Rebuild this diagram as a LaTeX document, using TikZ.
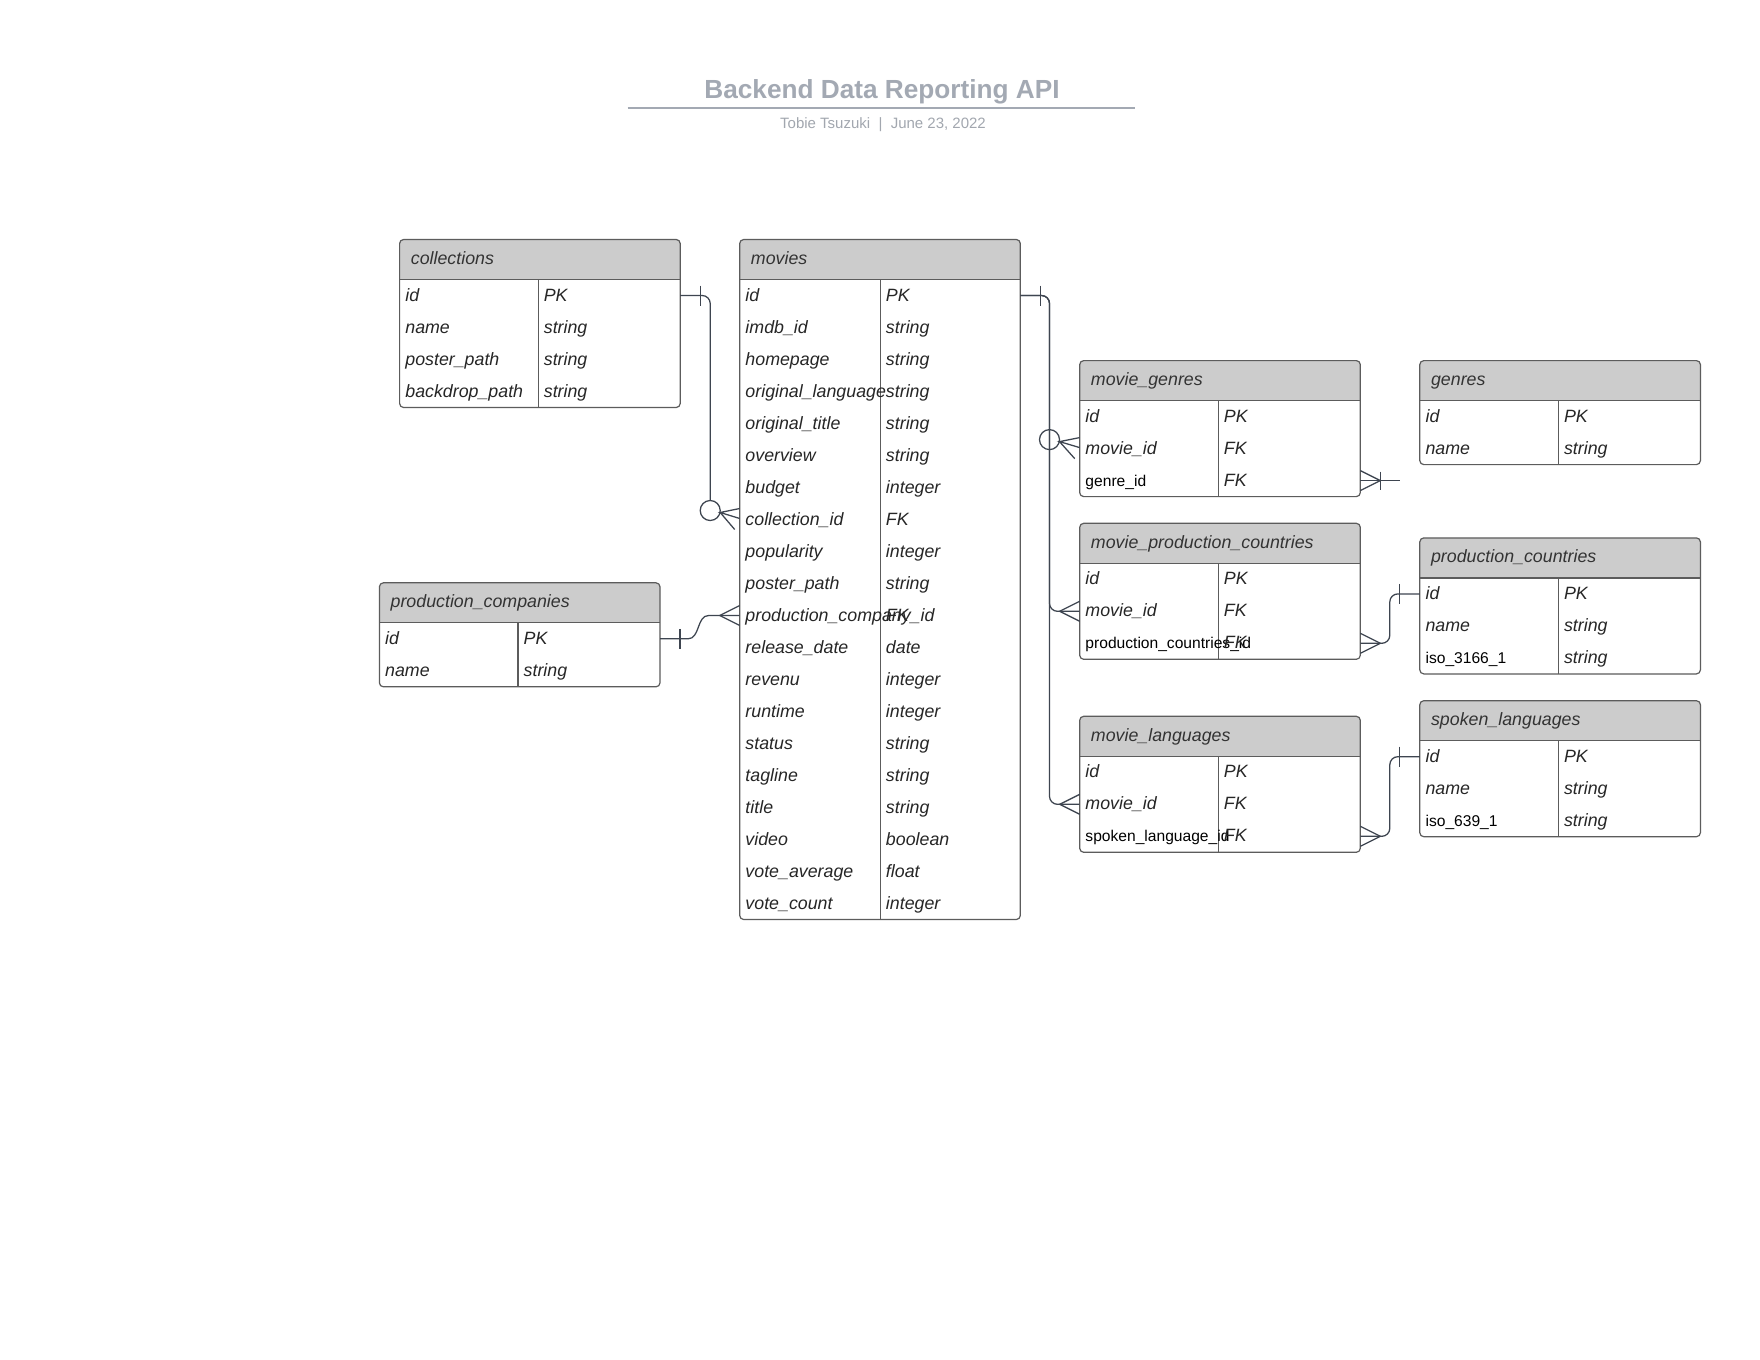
\documentclass[tikz,border=0pt]{standalone}
\usepackage{fontspec}
\setmainfont{Liberation Sans}
\usetikzlibrary{calc}

\definecolor{titlegrey}{HTML}{A3A9B3}
\definecolor{subgrey}{HTML}{A2A7AF}
\definecolor{headgrey}{HTML}{CCCCCC}
\definecolor{frame}{HTML}{5C5C5C}
\definecolor{wire}{HTML}{3E4550}
\definecolor{ink}{HTML}{262626}
\definecolor{headink}{HTML}{333333}

\tikzset{
  tablebox/.style={draw=frame, line width=0.9pt, rounded corners=3pt,
    minimum width=210.45pt, anchor=north west, inner sep=0pt, outer sep=0pt},
  tableline/.style={draw=frame, line width=0.9pt},
  rowbox/.style={minimum width=210.45pt, minimum height=24pt, anchor=west,
    inner sep=0pt, outer sep=0pt},
  headtext/.style={anchor=base west, inner sep=0pt, text=headink,
    font=\fontsize{13.35}{16}\itshape},
  fieldit/.style={anchor=base west, inner sep=0pt, text=ink,
    font=\fontsize{13.35}{16}\itshape},
  fieldup/.style={anchor=base west, inner sep=0pt, text=black,
    font=\fontsize{11.7}{14}\selectfont},
  link/.style={draw=wire, line width=0.95pt},
}

% #1 name, #2 left, #3 top, #4 title, #5 number of rows,
% #6 x of the column rule, #7 rows as field/type/style
\newcommand\erdtable[7]{%
  \begin{scope}[shift={(#2,#3)}]
    \pgfmathsetmacro\tbot{40+#5*32}
    \fill[headgrey, rounded corners=3pt] (0,0) rectangle (280.6,40);
    \fill[headgrey] (0,20) rectangle (280.6,40);
    \fill[white, rounded corners=3pt] (0,40) rectangle (280.6,\tbot);
    \fill[white] (0,40) rectangle (280.6,60);
    \node[tablebox, minimum height={\tbot*0.75pt}] (#1) at (0,0) {};
    \draw[tableline] (0,40) -- (280.6,40);
    \draw[tableline] (#6,40) -- (#6,\tbot);
    \node[headtext] (#1-title) at (11,25) {#4};
    \foreach \fld/\typ/\sty [count=\i] in {#7} {
      \node[rowbox] (#1-\i) at (0,40+\i*32-16) {};
      \node[\sty] (#1-\i-name) at (5.5,40+\i*32-10.5) {\fld};
      \node[fieldit] (#1-\i-type) at (#6+5.5,40+\i*32-10.5) {\typ};
    }
  \end{scope}}

\begin{document}
\begin{tikzpicture}[x=0.75pt, y=-0.75pt]
  \fill[white] (0,0) rectangle (1760,1360);
  \useasboundingbox (0,0) rectangle (1760,1360);

  % heading
  \node[anchor=base, text=titlegrey, font=\fontsize{19.65}{24}\bfseries]
    (title) at (882,98) {Backend Data Reporting API};
  \coordinate (ruleL) at (627.5,107.7);
  \coordinate (ruleR) at (1134.8,107.7);
  \draw[titlegrey, line width=1.4pt] (ruleL) -- (ruleR);
  \node[anchor=base, text=subgrey, font=\fontsize{11.25}{14}\selectfont]
    (byline) at (883,128.8) {Tobie Tsuzuki \ | \ June 23, 2022};

  % tables
  \erdtable{coll}{399.6}{239.5}{collections}{4}{138.5}{%
    id/PK/fieldit, name/string/fieldit, poster\_path/string/fieldit,
    backdrop\_path/string/fieldit}
  \erdtable{movies}{739.7}{239.5}{movies}{20}{140.5}{%
    id/PK/fieldit, imdb\_id/string/fieldit, homepage/string/fieldit,
    original\_language/string/fieldit, original\_title/string/fieldit,
    overview/string/fieldit, budget/integer/fieldit, collection\_id/FK/fieldit,
    popularity/integer/fieldit, poster\_path/string/fieldit,
    production\_company\_id/FK/fieldit, release\_date/date/fieldit,
    revenu/integer/fieldit, runtime/integer/fieldit, status/string/fieldit,
    tagline/string/fieldit, title/string/fieldit, video/boolean/fieldit,
    vote\_average/float/fieldit, vote\_count/integer/fieldit}
  \erdtable{pcomp}{379.4}{582.8}{production\_companies}{2}{138.5}{%
    id/PK/fieldit, name/string/fieldit}
  \erdtable{mgenres}{1079.7}{360.6}{movie\_genres}{3}{138.5}{%
    id/PK/fieldit, movie\_id/FK/fieldit, genre\_id/FK/fieldup}
  \erdtable{genres}{1419.8}{360.6}{genres}{2}{138.5}{%
    id/PK/fieldit, name/string/fieldit}
  \erdtable{mpc}{1079.7}{523.3}{movie\_production\_countries}{3}{138.5}{%
    id/PK/fieldit, movie\_id/FK/fieldit, production\_countries\_id/FK/fieldup}
  \erdtable{pcountries}{1419.8}{537.9}{production\_countries}{3}{138.5}{%
    id/PK/fieldit, name/string/fieldit, iso\_3166\_1/string/fieldup}
  \erdtable{mlang}{1079.7}{716.3}{movie\_languages}{3}{138.5}{%
    id/PK/fieldit, movie\_id/FK/fieldit, spoken\_language\_id/FK/fieldup}
  \erdtable{slang}{1419.8}{700.7}{spoken\_languages}{3}{138.5}{%
    id/PK/fieldit, name/string/fieldit, iso\_639\_1/string/fieldup}

  % collections.id -> movies.collection_id (one to zero-or-many)
  \coordinate (collZero) at ($(movies-8.west)+(-29.5,-9)$);
  \draw[link, rounded corners=6pt] (coll-1.east) -| ($(collZero)+(0,-10)$);
  \draw[link] (collZero) circle[radius=7.5pt];
  \draw[link] ($(coll-1.east)+(20,-10)$) -- ++(0,20);
  \draw[link] ($(movies-8.west)+(0,-11)$) -- ($(collZero)+(10,2)$)
    -- ($(movies-8.west)+(0,-1)$);
  \draw[link] ($(collZero)+(10,2)$) -- ($(movies-8.west)+(-5,10)$);

  % production_companies.id -> movies.production_company_id
  \draw[link] (pcomp-1.east) -- ++(28,0) to[out=0,in=180]
    ($(movies-11.west)+(-31,0)$) -- (movies-11.west);
  \draw[link] ($(pcomp-1.east)+(20,-10)$) -- ++(0,20);
  \draw[link] ($(movies-11.west)+(0,-10)$) -- ($(movies-11.west)+(-20,0)$)
    -- ($(movies-11.west)+(0,10)$);

  % movies.id -> movie_genres / movie_production_countries / movie_languages
  \coordinate (mgZero) at ($(mgenres-2.west)+(-30.2,-9)$);
  \draw[link, rounded corners=6pt] (movies-1.east) -| ($(mpc-2.west)+(-30.2,0)$)
    -- (mpc-2.west);
  \draw[link, rounded corners=6pt] (movies-1.east) -| ($(mlang-2.west)+(-30.2,0)$)
    -- (mlang-2.west);
  \draw[link] ($(movies-1.east)+(20,-10)$) -- ++(0,20);
  \draw[link] (mgZero) circle[radius=7.5pt];
  \draw[link] ($(mgenres-2.west)+(0,-11)$) -- ($(mgZero)+(10,2)$)
    -- ($(mgenres-2.west)+(0,-1)$);
  \draw[link] ($(mgZero)+(10,2)$) -- ($(mgenres-2.west)+(-5,10)$);
  \draw[link] ($(mpc-2.west)+(0,-10)$) -- ($(mpc-2.west)+(-20,0)$)
    -- ($(mpc-2.west)+(0,10)$);
  \draw[link] ($(mlang-2.west)+(0,-10)$) -- ($(mlang-2.west)+(-20,0)$)
    -- ($(mlang-2.west)+(0,10)$);

  % movie_genres.genre_id, open end
  \draw[link] (mgenres-3.east) -- ++(40,0) coordinate (genreEnd);
  \draw[link] ($(mgenres-3.east)+(0,-10)$) -- ($(mgenres-3.east)+(20,0)$)
    -- ($(mgenres-3.east)+(0,10)$);
  \draw[link] ($(mgenres-3.east)+(20,-9)$) -- ++(0,18);

  % movie_production_countries -> production_countries.id
  \draw[link, rounded corners=6pt] (mpc-3.east) -| ($(pcountries-1.west)+(-30,0)$)
    -- (pcountries-1.west);
  \draw[link] ($(mpc-3.east)+(0,-10)$) -- ($(mpc-3.east)+(20,0)$)
    -- ($(mpc-3.east)+(0,10)$);
  \draw[link] ($(pcountries-1.west)+(-20,-10)$) -- ++(0,20);

  % movie_languages -> spoken_languages.id
  \draw[link, rounded corners=6pt] (mlang-3.east) -| ($(slang-1.west)+(-30,0)$)
    -- (slang-1.west);
  \draw[link] ($(mlang-3.east)+(0,-10)$) -- ($(mlang-3.east)+(20,0)$)
    -- ($(mlang-3.east)+(0,10)$);
  \draw[link] ($(slang-1.west)+(-20,-10)$) -- ++(0,20);
\end{tikzpicture}
\end{document}
